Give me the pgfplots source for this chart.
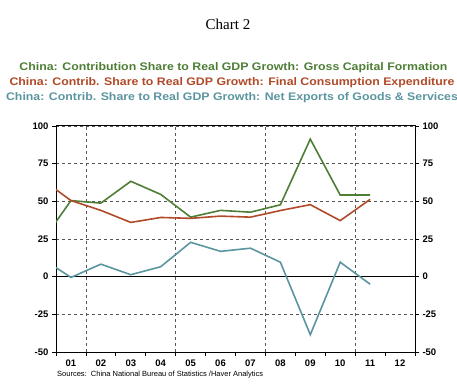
\documentclass[border=0pt]{standalone}
\usepackage{pgfplots}
\pgfplotsset{compat=1.18}
\usepackage{fontspec}
\setmainfont{Liberation Sans}
\newfontfamily\seriffont{Liberation Serif}
\definecolor{cg}{HTML}{4E7E36}
\definecolor{co}{HTML}{B14A28}
\definecolor{cb}{HTML}{5B95A0}
\definecolor{gridc}{HTML}{555555}

\pgfplotstableread{
year gcf cons nx
2000 22.4 65.1 12.5
2001 50.5 50.5 -0.5
2002 48.8 44.0 8.3
2003 63.3 36.0 1.3
2004 54.6 39.3 6.6
2005 39.5 38.7 22.8
2006 44.0 40.2 16.8
2007 42.8 39.5 18.9
2008 47.7 43.9 9.6
2009 91.3 47.8 -38.5
2010 54.2 37.2 9.6
2011 54.2 51.3 -5.0
}\datatable

\begin{document}
\begin{tikzpicture}
\useasboundingbox (0pt,0pt) rectangle (457pt,388pt);
\node[font=\seriffont\fontsize{15}{18}\selectfont] at (228pt,364pt) {Chart 2};
\node[font=\bfseries\fontsize{11}{12}\selectfont, text=cg] at (233.5pt,320pt) {\scalebox{1.12}[1]{China: Contribution Share to Real GDP Growth: Gross Capital Formation}};
\node[font=\bfseries\fontsize{11}{12}\selectfont, text=co] at (232pt,305pt) {\scalebox{1.12}[1]{China: Contrib. Share to Real GDP Growth: Final Consumption Expenditure}};
\node[font=\bfseries\fontsize{11}{12}\selectfont, text=cb] at (232pt,290pt) {\scalebox{1.12}[1]{China: Contrib. Share to Real GDP Growth: Net Exports of Goods \& Services}};
\node[anchor=west, inner sep=0pt, font=\fontsize{7.5}{8}\selectfont] at (57pt,13pt) {Sources:\ \ China National Bureau of Statistics /Haver Analytics};

\begin{axis}[
  at={(56pt,36pt)}, anchor=south west, scale only axis,
  width=359pt, height=226pt,
  xmin=2000.5, xmax=2012.5, ymin=-50, ymax=100,
  axis line style={black, line width=1pt},
  tick align=outside,
  xtick={2001,...,2012},
  xticklabels={01,02,03,04,05,06,07,08,09,10,11,12},
  xtick pos=bottom,
  major x tick style={draw=none},
  minor xtick={2000.5,2001.5,...,2012.5},
  minor tick length=4pt,
  minor x tick style={black, line width=0.8pt},
  extra x ticks={2001.5,2004.5,2007.5,2010.5},
  extra x tick labels={},
  extra x tick style={grid=major, major tick length=0pt},
  ytick={-50,-25,0,25,50,75,100},
  ytick pos=left,
  major tick length=4pt,
  major y tick style={black, line width=0.8pt},
  ymajorgrids,
  major grid style={gridc, line width=0.6pt, dash pattern=on 3pt off 3pt},
  /pgf/number format/assume math mode=true,
  ticklabel style={font=\bfseries\fontsize{9.5}{10}\selectfont},
]
\draw[black, line width=1pt] (axis cs:2000.5,0) -- (axis cs:2012.5,0);
\addplot[cg, line width=1.6pt, mark=none] table[x=year, y=gcf] {\datatable};
\addplot[co, line width=1.6pt, mark=none] table[x=year, y=cons] {\datatable};
\addplot[cb, line width=1.6pt, mark=none] table[x=year, y=nx] {\datatable};
\end{axis}

\begin{axis}[
  at={(56pt,36pt)}, anchor=south west, scale only axis,
  width=359pt, height=226pt,
  xmin=2000.5, xmax=2012.5, ymin=-50, ymax=100,
  axis x line=none, axis y line*=right,
  axis line style={black, line width=1pt},
  tick align=outside,
  ytick={-50,-25,0,25,50,75,100},
  major tick length=4pt,
  major y tick style={black, line width=0.8pt},
  /pgf/number format/assume math mode=true,
  ticklabel style={font=\bfseries\fontsize{9.5}{10}\selectfont},
]
\addplot[draw=none] coordinates {(2001,0)};
\end{axis}
\end{tikzpicture}
\end{document}
